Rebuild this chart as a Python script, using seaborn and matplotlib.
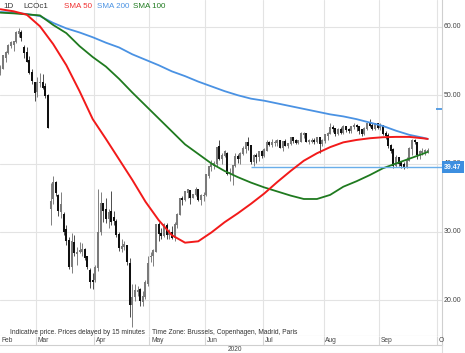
import numpy as np
import pandas as pd
import matplotlib
matplotlib.use("Agg")
import matplotlib.pyplot as plt
import seaborn as sns

# ---------------- data ----------------
# trading days Feb 11 .. Sep 25 2020 (ICE closed on Good Friday)
opens = [53.3,54.0,55.6,56.3,57.3,57.5,57.9,59.1,59.2,57.0,56.3,55.0,53.3,51.8,
         50.6,51.9,51.8,51.2,50.0,33.5,34.9,37.2,35.3,33.0,32.5,30.3,28.7,25.0,28.4,26.8,27.2,27.2,27.3,26.3,24.3,22.8,
         23.0,24.8,30.0,34.1,33.2,31.9,33.0,32.0,31.5,29.6,27.5,27.8,28.0,25.3,19.3,20.5,21.3,21.5,19.8,20.5,22.5,
         26.4,26.5,27.2,31.0,29.7,29.5,30.9,29.6,29.9,29.2,31.1,32.5,34.8,34.7,35.8,36.0,35.1,35.5,36.2,34.7,35.3,
         35.5,38.3,39.6,39.8,40.0,42.5,40.8,41.2,41.5,38.6,38.5,39.7,41.0,40.7,41.5,42.2,43.1,42.6,40.3,41.1,41.0,41.7,
         41.2,42.0,43.1,42.8,43.1,43.1,43.3,42.4,43.2,42.7,42.9,43.8,43.4,43.1,43.3,44.3,44.3,43.3,43.3,43.4,43.2,43.8,42.9,
         43.4,44.2,44.4,45.2,45.1,44.4,45.0,44.5,45.4,45.0,44.8,45.4,45.5,45.4,44.9,44.4,45.1,45.9,45.6,45.1,45.8,
         45.3,45.6,44.4,44.1,42.6,42.0,39.8,40.8,40.1,39.8,39.6,40.5,42.2,43.3,43.1,41.4,41.7,41.8,41.9]
highs = [54.5,55.9,56.5,57.5,57.9,57.9,59.4,59.8,59.5,57.3,57.1,55.7,53.9,52.0,
         52.7,53.2,53.1,51.8,50.2,37.1,38.2,37.5,35.5,35.8,32.9,31.0,29.2,29.8,29.5,27.8,28.5,28.4,27.6,26.5,24.7,23.9,
         25.2,36.3,35.8,34.2,35.0,33.4,36.0,33.0,31.8,29.9,28.9,28.7,28.1,26.1,22.4,22.3,22.0,21.8,21.3,22.9,26.4,
         27.0,27.4,31.2,31.4,30.6,31.3,31.3,30.4,30.9,31.5,32.7,35.0,35.3,36.0,36.3,36.1,35.6,36.6,36.3,35.6,35.8,
         38.5,39.7,40.5,40.4,42.4,43.4,41.6,42.0,41.7,39.3,39.8,41.6,41.4,41.7,42.6,43.2,43.9,42.7,41.4,41.6,41.8,42.0,
         42.2,43.4,43.3,43.6,43.5,43.6,43.5,43.3,43.6,43.0,43.9,43.9,43.6,43.5,44.6,44.6,44.5,43.6,43.8,43.8,43.9,43.9,43.6,
         44.3,44.6,46.0,45.6,45.2,45.2,45.4,45.6,45.5,45.2,45.5,46.0,45.8,45.5,45.0,45.4,46.0,46.5,45.9,45.9,46.0,
         45.9,45.6,44.8,44.4,42.9,42.2,41.2,41.0,40.4,40.2,40.9,42.4,43.6,43.6,43.2,42.0,42.3,42.1,42.3]
lows = [53.0,53.9,54.8,56.0,56.9,56.5,57.6,58.5,57.9,55.5,54.8,53.1,51.7,49.1,
        49.8,51.2,50.9,49.6,45.2,31.0,34.0,35.3,32.3,32.0,29.5,28.0,24.5,24.0,26.5,25.2,26.9,26.5,25.8,24.5,21.7,21.6,
        22.6,24.2,29.5,31.5,31.3,30.5,31.0,31.0,29.2,27.2,27.0,27.3,25.2,17.5,15.98,19.8,20.6,19.1,19.1,20.1,22.0,
        25.5,25.0,27.0,28.7,29.0,29.2,28.9,29.0,28.9,28.6,30.6,32.4,33.9,34.5,35.0,34.0,34.9,35.3,34.5,33.9,34.5,
        35.3,37.9,38.9,39.2,39.6,40.5,40.0,40.9,38.3,37.4,36.8,39.5,40.1,40.0,41.2,41.6,42.0,40.0,39.6,40.1,40.4,40.8,
        41.0,41.9,42.5,42.4,42.6,42.6,42.2,41.8,42.5,42.3,42.7,43.0,42.9,42.8,43.1,43.7,43.1,42.9,43.0,42.9,43.0,41.5,42.6,
        43.0,43.5,44.3,44.6,44.0,44.2,44.3,44.3,44.6,44.5,44.4,45.1,44.8,44.3,44.1,44.2,44.9,45.3,44.9,44.9,45.1,
        44.9,44.2,43.6,42.3,41.5,39.3,39.5,39.7,39.4,39.2,39.3,40.4,41.3,42.8,40.6,40.6,41.3,41.3,41.6]
closes = [54.0,55.8,56.3,57.3,57.7,57.8,59.1,59.3,58.5,56.3,55.0,53.4,52.2,50.5,
          51.9,51.9,51.1,50.0,45.3,34.4,37.2,35.8,33.2,33.9,30.1,28.7,24.9,28.5,27.0,27.0,27.2,27.4,26.3,24.9,22.8,22.7,
          24.7,29.9,34.1,33.1,31.9,32.8,31.5,31.7,29.6,27.7,27.8,28.1,25.6,19.3,20.4,21.3,21.4,20.0,20.5,22.5,25.3,
          26.4,27.2,31.0,29.7,29.5,31.0,29.6,30.0,29.2,31.1,32.5,34.8,34.7,35.8,36.1,35.1,35.5,36.2,34.7,35.3,35.3,
          38.3,39.6,39.8,40.0,42.3,40.8,41.2,41.7,38.6,38.7,39.7,41.0,40.7,41.5,42.2,43.1,42.6,40.3,41.1,41.0,41.7,41.2,
          42.0,43.1,42.8,43.1,43.1,43.3,42.4,43.2,42.7,42.9,43.8,43.4,43.1,43.3,44.3,44.3,43.3,43.3,43.4,43.2,43.8,42.9,43.3,
          44.2,44.4,45.2,45.1,44.4,45.0,44.5,45.4,45.0,44.8,45.4,45.5,45.4,44.9,44.4,45.1,45.9,45.6,45.1,45.8,45.3,
          45.6,44.4,44.1,42.7,42.0,39.8,40.8,40.1,39.8,39.6,40.5,42.2,43.3,43.2,41.4,41.7,41.8,41.9,41.9]

sma_dates = ["2020-02-11","2020-02-18","2020-02-25","2020-03-03","2020-03-10","2020-03-17","2020-03-24",
             "2020-03-31","2020-04-07","2020-04-15","2020-04-22","2020-04-29","2020-05-06","2020-05-13",
             "2020-05-20","2020-05-27","2020-06-03","2020-06-10","2020-06-17","2020-06-24","2020-07-01",
             "2020-07-08","2020-07-15","2020-07-22","2020-07-29","2020-08-05","2020-08-12","2020-08-19",
             "2020-08-26","2020-09-02","2020-09-09","2020-09-16","2020-09-23","2020-09-25"]
sma50 = [62.6,62.3,61.8,60.1,57.5,54.4,50.6,46.5,43.6,40.6,37.6,34.4,31.7,29.5,28.4,28.6,29.9,31.4,
         32.7,34.1,35.6,37.3,38.9,40.4,41.5,42.4,43.1,43.45,43.7,43.85,43.9,43.9,43.7,43.6]
sma200 = [62.2,62.1,61.9,61.6,60.6,59.8,59.2,58.5,57.7,57.0,56.0,55.2,54.4,53.5,52.8,52.0,51.3,50.6,
          50.0,49.5,49.2,48.8,48.4,48.0,47.6,47.2,46.9,46.5,46.0,45.5,44.8,44.2,43.8,43.6]
sma100 = [62.1,62.0,61.85,61.7,60.3,59.1,57.2,55.6,54.2,52.4,50.4,48.5,46.6,44.7,42.8,41.4,40.0,38.9,
          38.0,37.2,36.5,35.9,35.3,34.8,34.8,35.4,36.6,37.4,38.3,39.3,40.0,40.7,41.4,41.7]

support_level = 39.47
support_start = "2020-06-24"
marker_level = 48.0
price_ticks = [20, 30, 40, 50, 60]
month_labels = ["Feb", "Mar", "Apr", "May", "Jun", "Jul", "Aug", "Sep", "O"]

# ---------------- build ----------------
days = pd.bdate_range("2020-02-11", "2020-10-02").drop(pd.Timestamp("2020-04-10"))
pos = {d: k for k, d in enumerate(days)}
n = len(closes)
idx = np.arange(n)
df = pd.DataFrame({"i": idx, "o": opens, "h": highs, "l": lows, "c": closes})
sma = pd.DataFrame({"i": [pos[pd.Timestamp(d)] for d in sma_dates],
                    "SMA 50": sma50, "SMA 200": sma200, "SMA 100": sma100})

sns.set_theme(style="white")
plt.rcParams["font.family"] = ["Liberation Sans", "DejaVu Sans"]

W, H = 465, 353
fig = plt.figure(figsize=(W / 100, H / 100), dpi=100)
plot_r, plot_b = 442, 336
ax = fig.add_axes([0, 1 - plot_b / H, plot_r / W, plot_b / H])
ymin = 60 - (plot_b - 27) / 6.825
ymax = 60 + 27 / 6.825
xl, xr = -0.15, 167.4
ax.set_xlim(xl, xr)
ax.set_ylim(ymin, ymax)

grid_c = "#e3e3e3"
month_starts = []
for m in range(3, 11):
    first = days[(days.month == m)][0]
    month_starts.append(pos[first] - 0.5)
for p in price_ticks:
    ax.axhline(p, color=grid_c, lw=0.8, zorder=0)
for x in month_starts:
    ax.axvline(x, color=grid_c, lw=0.8, zorder=0)

up = df["c"] >= df["o"]
for mask, col, wick in [(up, "#7a7a7a", "#6a6a6a"), (~up, "#101010", "#303030")]:
    sub = df[mask]
    ax.vlines(sub["i"], sub["l"], sub["h"], color=wick, lw=0.6, zorder=2)
    ax.vlines(sub["i"], np.minimum(sub["o"], sub["c"]) - 0.1, np.maximum(sub["o"], sub["c"]) + 0.1,
              color=col, lw=1.45, zorder=3)

sns.lineplot(data=sma, x="i", y="SMA 200", ax=ax, color="#4a92e3", lw=1.3, zorder=4)
sns.lineplot(data=sma, x="i", y="SMA 100", ax=ax, color="#1f7a1f", lw=1.3, zorder=4)
sns.lineplot(data=sma, x="i", y="SMA 50", ax=ax, color="#f21a1a", lw=1.4, zorder=5)

ax.hlines(support_level, pos[pd.Timestamp(support_start)], xr, color="#6aaeea", lw=1.0, zorder=4)
ax.hlines(marker_level, month_starts[-1] - 0.5, xr, color="#3d8fe0", lw=1.2, zorder=4)

ax.set_xlabel("")
ax.set_ylabel("")
ax.set_xticks([])
ax.set_yticks([])
for s in ["top", "left"]:
    ax.spines[s].set_visible(False)
for s in ["right", "bottom"]:
    ax.spines[s].set_color("#cfcfcf")
    ax.spines[s].set_linewidth(0.8)

# month row
axm = fig.add_axes([0, 1 - 345 / H, plot_r / W, 9 / H])
axm.set_xlim(xl, xr)
axm.set_ylim(0, 1)
axm.set_xticks([])
axm.set_yticks([])
for s in ["top", "left"]:
    axm.spines[s].set_visible(False)
for s in ["right", "bottom"]:
    axm.spines[s].set_color("#cfcfcf")
    axm.spines[s].set_linewidth(0.8)
axm.vlines(month_starts, 0, 1, color="#d6d6d6", lw=0.8)
label_x = [xl + 0.4] + [m + 0.7 for m in month_starts]
for lx, lab in zip(label_x, month_labels):
    axm.text(lx, 0.45, lab, fontsize=4.8, color="#444444", va="center", ha="left")
fig.text(235 / W, 1 - 349.5 / H, "2020", fontsize=4.8, color="#444444", ha="center", va="center")
fig.add_artist(plt.Line2D([0, plot_r / W], [1 - 352.5 / H] * 2, color="#dddddd", lw=0.8))
fig.add_artist(plt.Line2D([plot_r / W] * 2, [1 - 353 / H, 1 - 345 / H], color="#dddddd", lw=0.8))

# right price labels
def fy(p):
    return 1 - (27 + (60 - p) * 6.825) / H
for p in price_ticks:
    fig.text(444 / W, fy(p), f"{p:.2f}", fontsize=5.0, color="#444444", va="center", ha="left")
fig.text(444 / W, fy(support_level), f"{support_level:.2f}", fontsize=5.0, color="white",
         va="center", ha="left", fontweight="bold",
         bbox=dict(boxstyle="square,pad=0.35", fc="#3d8fe0", ec="none"))

# footer
fig.text(10 / W, 1 - 332 / H, "Indicative price. Prices delayed by 15 minutes", fontsize=4.8,
         color="#333333", va="center", ha="left")
fig.text(152 / W, 1 - 332 / H, "Time Zone: Brussels, Copenhagen, Madrid, Paris", fontsize=4.8,
         color="#333333", va="center", ha="left")

# header legend
ty = 1 - 6.5 / H
fig.text(3 / W, ty, "1D", fontsize=5.8, color="#333333", va="center")
fig.text(23 / W, ty, "LCOc1", fontsize=5.8, color="#333333", va="center")
fig.text(64 / W, ty, "SMA 50", fontsize=5.8, color="#f03030", va="center")
fig.text(97 / W, ty, "SMA 200", fontsize=5.8, color="#4a92e3", va="center")
fig.text(133 / W, ty, "SMA 100", fontsize=5.8, color="#1f7a1f", va="center")

fig.savefig("out.png", dpi=100)
